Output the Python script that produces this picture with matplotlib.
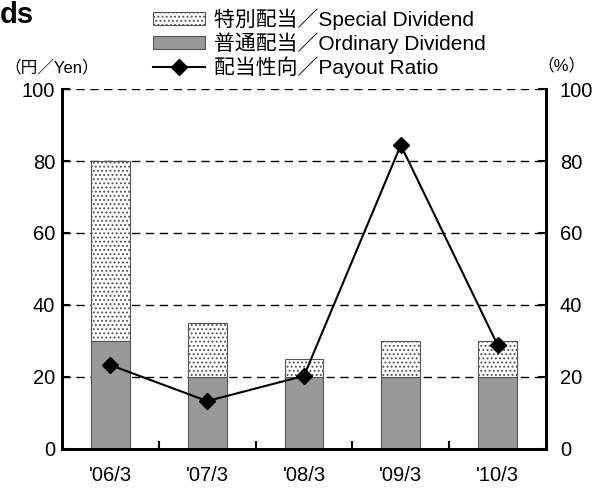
import matplotlib
matplotlib.use("Agg")
import matplotlib.pyplot as plt
from matplotlib.patches import Patch
from matplotlib.lines import Line2D

plt.rcParams['font.family'] = ['Liberation Sans', 'Noto Sans CJK JP']
plt.rcParams['hatch.linewidth'] = 0.9
plt.rcParams['hatch.color'] = '#333333'

years = ["'06/3", "'07/3", "'08/3", "'09/3", "'10/3"]
ordinary = [30, 20, 20, 20, 20]
special = [50, 15, 5, 10, 10]
payout = [23.3, 13.3, 20.3, 84.4, 28.9]

fig = plt.figure(figsize=(5.98, 4.88), dpi=100)
ax = fig.add_axes([0.1037, 0.080, 0.8093, 0.7376])
x = range(len(years))

ax.bar(x, ordinary, width=0.4, color='#999999', edgecolor='#555555', linewidth=0.8, zorder=2)
ax.bar(x, special, width=0.4, bottom=ordinary, color='white', edgecolor='#555555',
       hatch='....', linewidth=0.8, zorder=2)

ax2 = ax.twinx()
ax2.plot(x, payout, color='black', lw=1.5, marker='D', markersize=8, zorder=3)

for a in (ax, ax2):
    a.set_ylim(0, 100)
    a.set_xlim(-0.5, len(years) - 0.5)
    a.set_yticks(range(0, 101, 20))
    a.spines['top'].set_visible(False)
    for s in ('left', 'right', 'bottom'):
        a.spines[s].set_linewidth(2)
    a.tick_params(axis='y', direction='in', length=6, width=1.5, labelsize=14.5)

for v in range(20, 101, 20):
    ax.axhline(v, color='black', lw=1, ls=(0, (6, 4)), zorder=1)

ax.set_xticks(list(x))
ax.set_xticklabels(years)
ax.set_xticks([i + 0.5 for i in range(len(years) - 1)], minor=True)
ax.tick_params(axis='x', which='major', length=0, labelsize=14.5, pad=12)
ax.tick_params(axis='x', which='minor', direction='in', length=6, width=1.5)
ax.tick_params(axis='y', pad=5)
ax2.tick_params(axis='y', pad=10)

fig.text(0.008, 0.862, '（円／Yen）', fontsize=12, ha='left', va='center')
fig.text(0.898, 0.866, '（%）', fontsize=12, ha='left', va='center')
fig.text(0.0, 0.998, 'ds', fontsize=21, fontweight='bold', ha='left', va='top')

handles = [
    Patch(facecolor='white', edgecolor='#555555', hatch='....', linewidth=0.8),
    Patch(facecolor='#999999', edgecolor='#555555', linewidth=0.8),
    Line2D([], [], color='black', lw=1.5, marker='D', markersize=8),
]
labels = ['特別配当／Special Dividend', '普通配当／Ordinary Dividend', '配当性向／Payout Ratio']
fig.legend(handles, labels, loc='upper left', bbox_to_anchor=(0.225, 1.022), frameon=False,
           fontsize=15, handlelength=2.5, handleheight=0.6, handletextpad=0.4, labelspacing=0.12)

fig.savefig('out.png', dpi=100)
